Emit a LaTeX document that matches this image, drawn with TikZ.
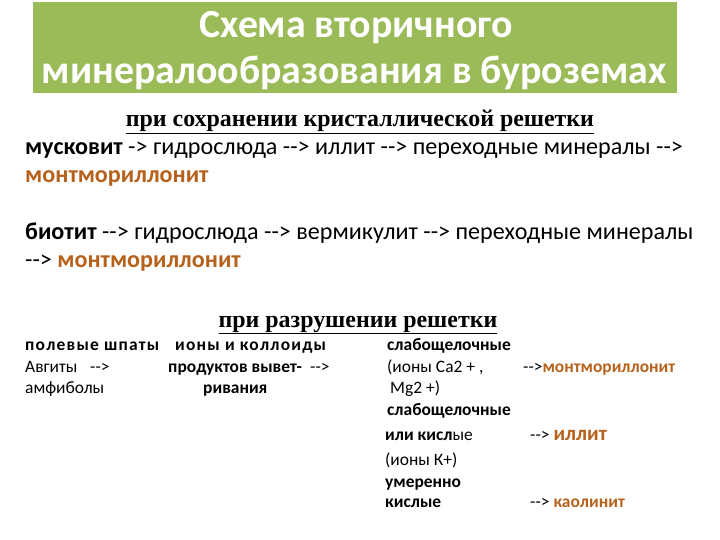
\documentclass[tikz,border=0pt]{standalone}
\usepackage{fontspec}
\setmainfont{Carlito}
\newfontfamily\headfont{Liberation Serif}
\definecolor{titlegreen}{RGB}{155,187,89}
\definecolor{mineral}{RGB}{182,98,28}
\newcommand{\arw}{-{}-{}>}
\newcommand{\wide}{\addfontfeature{LetterSpace=7}}

\begin{document}
\begin{tikzpicture}[x=1bp,y=-1bp,
    txt/.style={anchor=base west,inner sep=0pt,font=\fontsize{24.2}{28}\selectfont},
    small/.style={anchor=base west,inner sep=0pt,font=\fontsize{17.5}{20}\selectfont},
    head/.style={anchor=base,inner sep=0pt,font=\headfont\bfseries\fontsize{24}{28}\selectfont}]
                \useasboundingbox (0,0) rectangle (720,540);

                % title banner
                \fill[titlegreen] (33,2) rectangle (677,93);
                \node[anchor=base,inner sep=0pt,text=white,font=\bfseries\fontsize{40}{46}\selectfont] (title1) at (356,38) {Схема вторичного};
                \node[anchor=base,inner sep=0pt,text=white,font=\bfseries\fontsize{40}{46}\selectfont] (title2) at (354,84) {минералообразования в буроземах};

                % first part
                \node[head] (keep) at (360,127) {\underline{при сохранении кристаллической решетки}};
                \node[txt] (musc) at (25,155) {\textbf{мусковит} -{}> гидрослюда \arw{} иллит \arw{} переходные минералы \arw};
                \node[txt,text=mineral] (mont1) at (25,183) {\textbf{монтмориллонит}};
                \node[txt] (biot) at (25,240) {\textbf{биотит} \arw{} гидрослюда \arw{} вермикулит \arw{} переходные минералы};
                \node[txt] (mont2) at (25,268) {\arw{} \textcolor{mineral}{\textbf{монтмориллонит}}};

                % second part
                \node[head] (destr) at (358,327) {\underline{при разрушении решетки}};
                \node[small] (felds) at (25,350) {\bfseries\wide полевые шпаты};
                \node[small] (augit) at (25,372) {Авгиты};
                \node[small] (arrA) at (90,372) {\arw};
                \node[small] (amph) at (25,393) {амфиболы};

                \node[small] (ions) at (175,350) {\bfseries\wide ионы и коллоиды};
                \node[small] (prod) at (168,372) {\textbf{продуктов вывет-}};
                \node[small] (arrB) at (310,372) {\arw};
                \node[small] (riv) at (203,393) {\textbf{ривания}};

                \node[small] (alk1) at (387,350) {\textbf{слабощелочные}};
                \node[small] (ca) at (387,372) {(ионы Са2 + ,};
                \node[small] (mg) at (390,393) {Mg2 +)};
                \node[small] (alk2) at (387,415) {\textbf{слабощелочные}};
                \node[small] (acid1) at (385,440) {\textbf{или кисл}ые};
                \node[small] (kion) at (385,465) {(ионы К+)};
                \node[small] (mod) at (385,487) {\textbf{умеренно}};
                \node[small] (acid2) at (385,507) {\textbf{кислые}};

                \node[small] (mont3) at (523,372) {\arw\textcolor{mineral}{\textbf{монтмориллонит}}};
                \node[small] (illit) at (530,440) {\arw{} \textcolor{mineral}{\fontsize{21}{24}\selectfont\textbf{иллит}}};
                \node[small] (kaol) at (530,507) {\arw{} \textcolor{mineral}{\textbf{каолинит}}};
            \end{tikzpicture}
\end{document}
